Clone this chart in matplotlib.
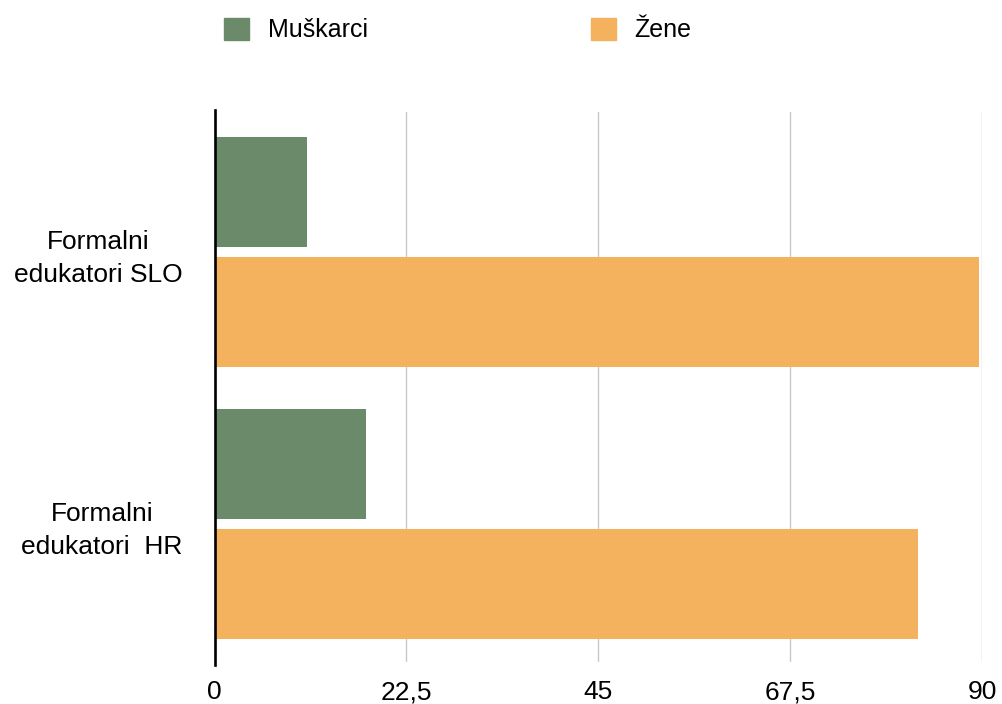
import matplotlib.pyplot as plt
import numpy as np
from matplotlib.patches import Patch

plt.rcParams['font.family'] = ['Liberation Sans', 'DejaVu Sans']

# Data
categories = ['Formalni\nedukatori SLO', 'Formalni\nedukatori  HR']
muskarci = [10.8, 17.8]
zene = [89.6, 82.5]
x_ticks = [0, 22.5, 45, 67.5, 90]
x_tick_labels = ['0', '22,5', '45', '67,5', '90']

green = '#6a8a6a'
orange = '#f4b25e'

fig = plt.figure(figsize=(10.02, 7.04), dpi=100)
ax = fig.add_axes([214.5 / 1002, 1 - 662 / 704, (982 - 214.5) / 1002, 550 / 704])

y = np.arange(len(categories))
h = 0.404
off = 0.2205
ax.barh(y - off, muskarci, height=h, color=green, zorder=3)
ax.barh(y + off, zene, height=h, color=orange, zorder=3)

ax.set_xlim(0, 90)
ax.set_ylim(1.507, -0.513)

ax.set_xticks(x_ticks)
ax.set_xticklabels(x_tick_labels)
ax.set_yticks(y)
ax.set_yticklabels(categories, multialignment='center', linespacing=1.45)
ax.tick_params(axis='both', length=0, labelsize=19, colors='black')
ax.tick_params(axis='y', pad=23)
ax.tick_params(axis='x', pad=13)

ax.grid(axis='x', color='#c8c8c8', linewidth=1, zorder=0)
for s in ax.spines.values():
    s.set_visible(False)
# y axis line, slightly longer than the plot area
ax.axvline(0, ymin=-0.005, ymax=1.004, color='black', linewidth=1.9, clip_on=False, zorder=4)

handles = [Patch(color=green, label='Muškarci'), Patch(color=orange, label='Žene')]
fig.legend(handles=handles, loc='center left', bbox_to_anchor=(224 / 1002, 1 - 30 / 704),
           ncol=2, frameon=False, fontsize=18, handlelength=1.0, handleheight=1.0,
           handletextpad=0.76, columnspacing=8.9, borderpad=0, borderaxespad=0)

fig.savefig('out.png', dpi=100)
